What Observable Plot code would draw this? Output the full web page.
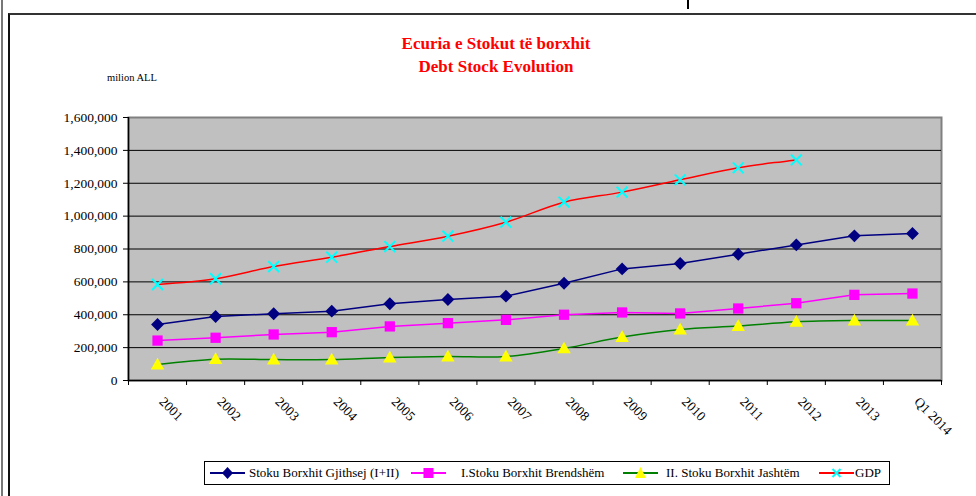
<!DOCTYPE html>
<html>
<head>
<meta charset="utf-8">
<script src="https://cdn.jsdelivr.net/npm/d3@7"></script>
<script src="https://cdn.jsdelivr.net/npm/@observablehq/plot@0.6"></script>
<style>
  html, body { margin: 0; padding: 0; background: #fff; }
  #wrap { position: relative; width: 976px; height: 496px; overflow: hidden; font-family: "Liberation Serif", "Times New Roman", serif; }
  #chart { position: absolute; left: 0; top: 0; }
  .outer { position: absolute; left: 1px; top: 0; width: 2px; height: 496px; background: #777; }
  .frame { position: absolute; left: 8px; top: 13px; width: 1000px; height: 500px; border-left: 2px solid #111; border-top: 2px solid #333; }
  .tick { position: absolute; left: 687px; top: 0; width: 2px; height: 9px; background: #000; }
  .title { position: absolute; left: 296px; width: 400px; text-align: center; color: #ff0000; font-weight: bold; font-size: 17px; }
  .unit { position: absolute; left: 107px; top: 72px; font-size: 10.5px; color: #000; }
  #legend { position: absolute; left: 204px; top: 461px; width: 684px; height: 22px; border: 1px solid #000; background: #fff; font-size: 13px; }
  #legend .item { position: absolute; top: 0; height: 22px; line-height: 22px; white-space: nowrap; }
  #legend svg { position: absolute; top: 0; }
</style>
</head>
<body>
<div id="wrap">
  <div id="chart"></div>
  <div class="outer"></div>
  <div class="frame"></div>
  <div class="tick"></div>
  <div class="title" style="top:34px">Ecuria e Stokut të borxhit</div>
  <div class="title" style="top:57px">Debt Stock Evolution</div>
  <div class="unit">milion ALL</div>
  <div id="legend"></div>
</div>
<script>
const years = ["2001","2002","2003","2004","2005","2006","2007","2008","2009","2010","2011","2012","2013","Q1 2014"];
const total = [341000, 389000, 406000, 422000, 467000, 493000, 513000, 592000, 679000, 712000, 768000, 825000, 880000, 894000];
const domestic = [243000, 260000, 280000, 294000, 329000, 349000, 369000, 400000, 414000, 408000, 438000, 470000, 521000, 529000];
const external = [97000, 130000, 127000, 127000, 140000, 146000, 146000, 195000, 264000, 310000, 331000, 357000, 365000, 365000];
const gdp = [584000, 619000, 693000, 750000, 815000, 878000, 963000, 1085000, 1146000, 1221000, 1294000, 1342000];
const yTicks = [0, 200000, 400000, 600000, 800000, 1000000, 1200000, 1400000, 1600000];
const seriesNames = ["Stoku Borxhit Gjithsej (I+II)", "I.Stoku Borxhit Brendshëm", "II. Stoku Borxhit Jashtëm", "GDP"];

const toRows = arr => arr.map((v, i) => ({i, v}));
const rTotal = toRows(total), rDom = toRows(domestic), rExt = toRows(external), rGdp = toRows(gdp);
const idx = years.map((_, i) => i);
const bounds = d3.range(years.length + 1).map(i => i - 0.5);

const chart = Plot.plot({
  width: 976,
  height: 440,
  marginLeft: 128,
  marginRight: 35,
  marginTop: 117,
  marginBottom: 60,
  style: {fontFamily: "'Liberation Serif', 'Times New Roman', serif", fontSize: "13px", background: "transparent", color: "#000"},
  x: {type: "linear", domain: [-0.5, years.length - 0.5]},
  y: {domain: [0, 1600000]},
  marks: [
    Plot.frame({fill: "#c0c0c0", stroke: "#808080", strokeWidth: 2}),
    Plot.gridY(yTicks.slice(1, -1), {stroke: "#000", strokeOpacity: 1, strokeWidth: 1}),
    Plot.axisY({ticks: yTicks, tickFormat: d3.format(","), tickSize: 5, tickPadding: 6, label: null, fontSize: 13.5}),
    Plot.axisX({ticks: bounds, tickFormat: () => "", tickSize: 5, label: null}),
    Plot.axisX({ticks: idx, tickFormat: i => years[i], tickSize: 0, tickPadding: 19, tickRotate: 45, label: null, fontSize: 13.5, dx: 4}),
    Plot.ruleY([0], {stroke: "#000", strokeWidth: 1.5}),
    Plot.ruleX([-0.5], {stroke: "#000", strokeWidth: 1.5}),
    Plot.line(rGdp, {x: "i", y: "v", stroke: "#ff0000", strokeWidth: 1.5, curve: "catmull-rom"}),
    Plot.line(rTotal, {x: "i", y: "v", stroke: "#000080", strokeWidth: 1.5}),
    Plot.line(rDom, {x: "i", y: "v", stroke: "#ff00ff", strokeWidth: 1.5}),
    Plot.line(rExt, {x: "i", y: "v", stroke: "#008000", strokeWidth: 1.5, curve: "catmull-rom"}),
    Plot.dot(rGdp, {x: "i", y: "v", symbol: "times", stroke: "#00ffff", strokeWidth: 2, r: 5}),
    Plot.dot(rTotal, {x: "i", y: "v", symbol: "diamond2", fill: "#000080", stroke: "none", r: 5.8}),
    Plot.dot(rDom, {x: "i", y: "v", symbol: "square", fill: "#ff00ff", stroke: "none", r: 5.8}),
    Plot.dot(rExt, {x: "i", y: "v", symbol: "triangle", fill: "#ffff00", stroke: "none", r: 5, dy: 1})
  ]
});
document.getElementById("chart").appendChild(chart);

// legend
const legend = document.getElementById("legend");
const lg = [
  {name: seriesNames[0], line: "#000080", sx: 5, tx: 44, marker: '<path d="M17.5 5 L23 11 L17.5 17 L12 11 Z" fill="#000080"/>'},
  {name: seriesNames[1], line: "#ff00ff", sx: 206, tx: 256, marker: '<rect x="12.5" y="6" width="10" height="10" fill="#ff00ff"/>'},
  {name: seriesNames[2], line: "#008000", sx: 418, tx: 461, marker: '<path d="M17.5 5 L23 16 L12 16 Z" fill="#ffff00"/>'},
  {name: seriesNames[3], line: "#ff0000", sx: 614, tx: 650, marker: '<path d="M13.5 7 L21.5 15 M21.5 7 L13.5 15" stroke="#00ffff" stroke-width="2"/>'}
];
lg.forEach(d => {
  const svg = `<svg width="35" height="22" style="left:${d.sx}px"><line x1="0" x2="35" y1="11" y2="11" stroke="${d.line}" stroke-width="2"/>${d.marker}</svg>`;
  legend.insertAdjacentHTML("beforeend", svg + `<span class="item" style="left:${d.tx}px">${d.name}</span>`);
});
</script>
</body>
</html>
